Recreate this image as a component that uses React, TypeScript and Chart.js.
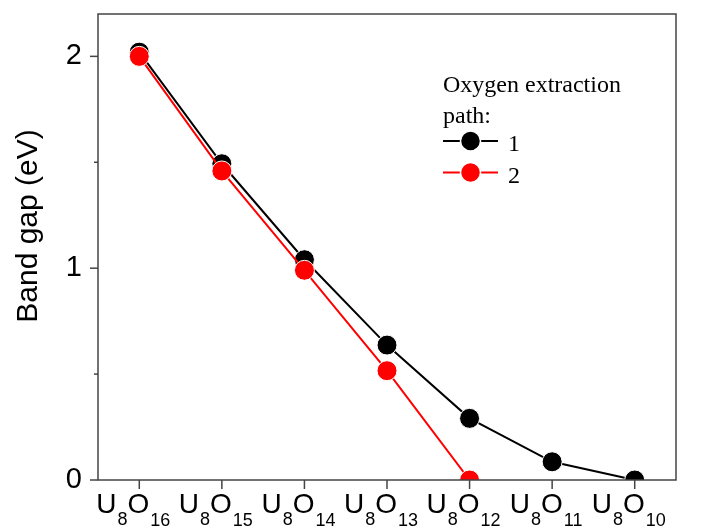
import React, { useEffect, useRef } from "react";
import { Chart, registerables } from "chart.js";

Chart.register(...registerables);

// ---- data ----
const categories = ["U8O16", "U8O15", "U8O14", "U8O13", "U8O12", "U8O11", "U8O10"];
const metalSymbol = "U";
const metalCount = "8";
const oxygenSymbol = "O";
const oxygenCounts = ["16", "15", "14", "13", "12", "11", "10"];
const path1 = [2.02, 1.493, 1.04, 0.637, 0.291, 0.086, 0.0];
const path2 = [2.0, 1.459, 0.99, 0.516, 0.0];
const seriesNames = ["1", "2"];
const seriesColors = ["#000000", "#ff0000"];
const legendTitle = ["Oxygen extraction", "path:"];
const yTitle = "Band gap (eV)";
const yMajorTicks = [0, 1, 2];
const yMinorTicks = [0.5, 1.5];

const SANS = "'Liberation Sans', Arial, sans-serif";
const SERIF = "'Liberation Serif', 'Times New Roman', serif";

const decorPlugin = {
  id: "decor",
  afterDraw(chart: any) {
    const { ctx, chartArea } = chart;
    const xs = chart.scales.x;
    const ys = chart.scales.y;
    ctx.save();

    // frame
    ctx.strokeStyle = "#444";
    ctx.lineWidth = 1.5;
    ctx.strokeRect(chartArea.left, chartArea.top, chartArea.right - chartArea.left, chartArea.bottom - chartArea.top);

    // x ticks
    ctx.strokeStyle = "#444";
    ctx.lineWidth = 1.5;
    categories.forEach((_, i) => {
      const x = xs.getPixelForValue(i);
      ctx.beginPath();
      ctx.moveTo(x, chartArea.bottom);
      ctx.lineTo(x, chartArea.bottom + 9);
      ctx.stroke();
    });
    // y ticks
    yMajorTicks.forEach((v) => {
      const y = ys.getPixelForValue(v);
      ctx.beginPath();
      ctx.moveTo(chartArea.left - 8, y);
      ctx.lineTo(chartArea.left, y);
      ctx.stroke();
    });
    yMinorTicks.forEach((v) => {
      const y = ys.getPixelForValue(v);
      ctx.beginPath();
      ctx.moveTo(chartArea.left - 4, y);
      ctx.lineTo(chartArea.left, y);
      ctx.stroke();
    });

    // x labels with subscripts
    const big = `28px ${SANS}`;
    const small = `18px ${SANS}`;
    ctx.fillStyle = "#000";
    ctx.textAlign = "left";
    ctx.textBaseline = "alphabetic";
    categories.forEach((_, i) => {
      const x = xs.getPixelForValue(i);
      ctx.font = big;
      const wU = ctx.measureText(metalSymbol).width;
      const wO = ctx.measureText(oxygenSymbol).width;
      ctx.font = small;
      const w8 = ctx.measureText(metalCount).width;
      const wN = ctx.measureText(oxygenCounts[i]).width;
      const total = wU + w8 + wO + wN + 2;
      let cx = x - 6 - total / 2;
      const base = chartArea.bottom + 33;
      ctx.font = big;
      ctx.fillText(metalSymbol, cx, base);
      cx += wU + 1;
      ctx.font = small;
      ctx.fillText(metalCount, cx, base + 12);
      cx += w8;
      ctx.font = big;
      ctx.fillText(oxygenSymbol, cx, base);
      cx += wO + 1;
      ctx.font = small;
      ctx.fillText(oxygenCounts[i], cx, base + 13);
    });

    // y title
    ctx.save();
    ctx.translate(29, 226);
    ctx.rotate(-Math.PI / 2);
    ctx.font = `30px ${SANS}`;
    ctx.textAlign = "center";
    ctx.textBaseline = "middle";
    ctx.fillStyle = "#000";
    ctx.fillText(yTitle, 0, 0);
    ctx.restore();

    // legend
    ctx.font = `24px ${SERIF}`;
    ctx.fillStyle = "#000";
    ctx.textAlign = "left";
    ctx.textBaseline = "alphabetic";
    legendTitle.forEach((t, i) => ctx.fillText(t, 443, 92 + i * 31));
    seriesNames.forEach((name, k) => {
      const ly = 141 + k * 31.5;
      ctx.strokeStyle = seriesColors[k];
      ctx.lineWidth = 2;
      ctx.beginPath();
      ctx.moveTo(443, ly);
      ctx.lineTo(498, ly);
      ctx.stroke();
      ctx.beginPath();
      ctx.arc(470.5, ly, 10, 0, Math.PI * 2);
      ctx.fillStyle = seriesColors[k];
      ctx.fill();
      ctx.strokeStyle = "#fff";
      ctx.lineWidth = 1.5;
      ctx.stroke();
      ctx.fillStyle = "#000";
      ctx.fillText(name, 508, ly + 10);
    });

    ctx.restore();
  },
};

export default function App() {
  const ref = useRef<HTMLCanvasElement>(null);
  useEffect(() => {
    const chart = new Chart(ref.current!, {
      type: "line",
      data: {
        labels: categories,
        datasets: [
          {
            label: seriesNames[0],
            data: path1,
            borderColor: seriesColors[0],
            backgroundColor: seriesColors[0],
            borderWidth: 2,
            pointRadius: 10,
            pointBorderWidth: 1,
            pointBorderColor: "#fff",
            pointBackgroundColor: seriesColors[0],
            tension: 0,
            clip: 0,
            order: 1,
          },
          {
            label: seriesNames[1],
            data: path2,
            borderColor: seriesColors[1],
            backgroundColor: seriesColors[1],
            borderWidth: 2,
            pointRadius: 10,
            pointBorderWidth: 1,
            pointBorderColor: "#fff",
            pointBackgroundColor: seriesColors[1],
            tension: 0,
            clip: 0,
            order: 0,
          },
        ],
      },
      options: {
        responsive: false,
        animation: false,
        events: [],
        layout: { padding: { left: 0, right: 29, top: 14, bottom: 0 } },
        plugins: { legend: { display: false }, tooltip: { enabled: false } },
        scales: {
          x: {
            type: "category",
            offset: true,
            grid: { display: false, drawTicks: false },
            border: { display: false },
            ticks: { display: false },
            afterFit: (s: any) => {
              s.height = 50;
              s.paddingLeft = 0;
              s.paddingRight = 0;
            },
          },
          y: {
            min: 0,
            max: 2.2,
            grid: { display: false, drawTicks: false },
            border: { display: false },
            ticks: {
              stepSize: 1,
              includeBounds: false,
              padding: 16,
              color: "#000",
              font: { family: SANS, size: 29 },
              callback: (v: any) => (yMajorTicks.includes(Number(v)) ? String(v) : ""),
            },
            afterFit: (s: any) => {
              s.width = 98;
              s.paddingTop = 0;
              s.paddingBottom = 0;
            },
          },
        },
      } as any,
      plugins: [decorPlugin],
    });
    return () => chart.destroy();
  }, []);
  return (
    <div style={{ position: "fixed", left: 0, top: 0, width: 705, height: 530, background: "#fff" }}>
      <canvas ref={ref} width={705} height={530} style={{ display: "block", width: 705, height: 530 }} />
    </div>
  );
}
